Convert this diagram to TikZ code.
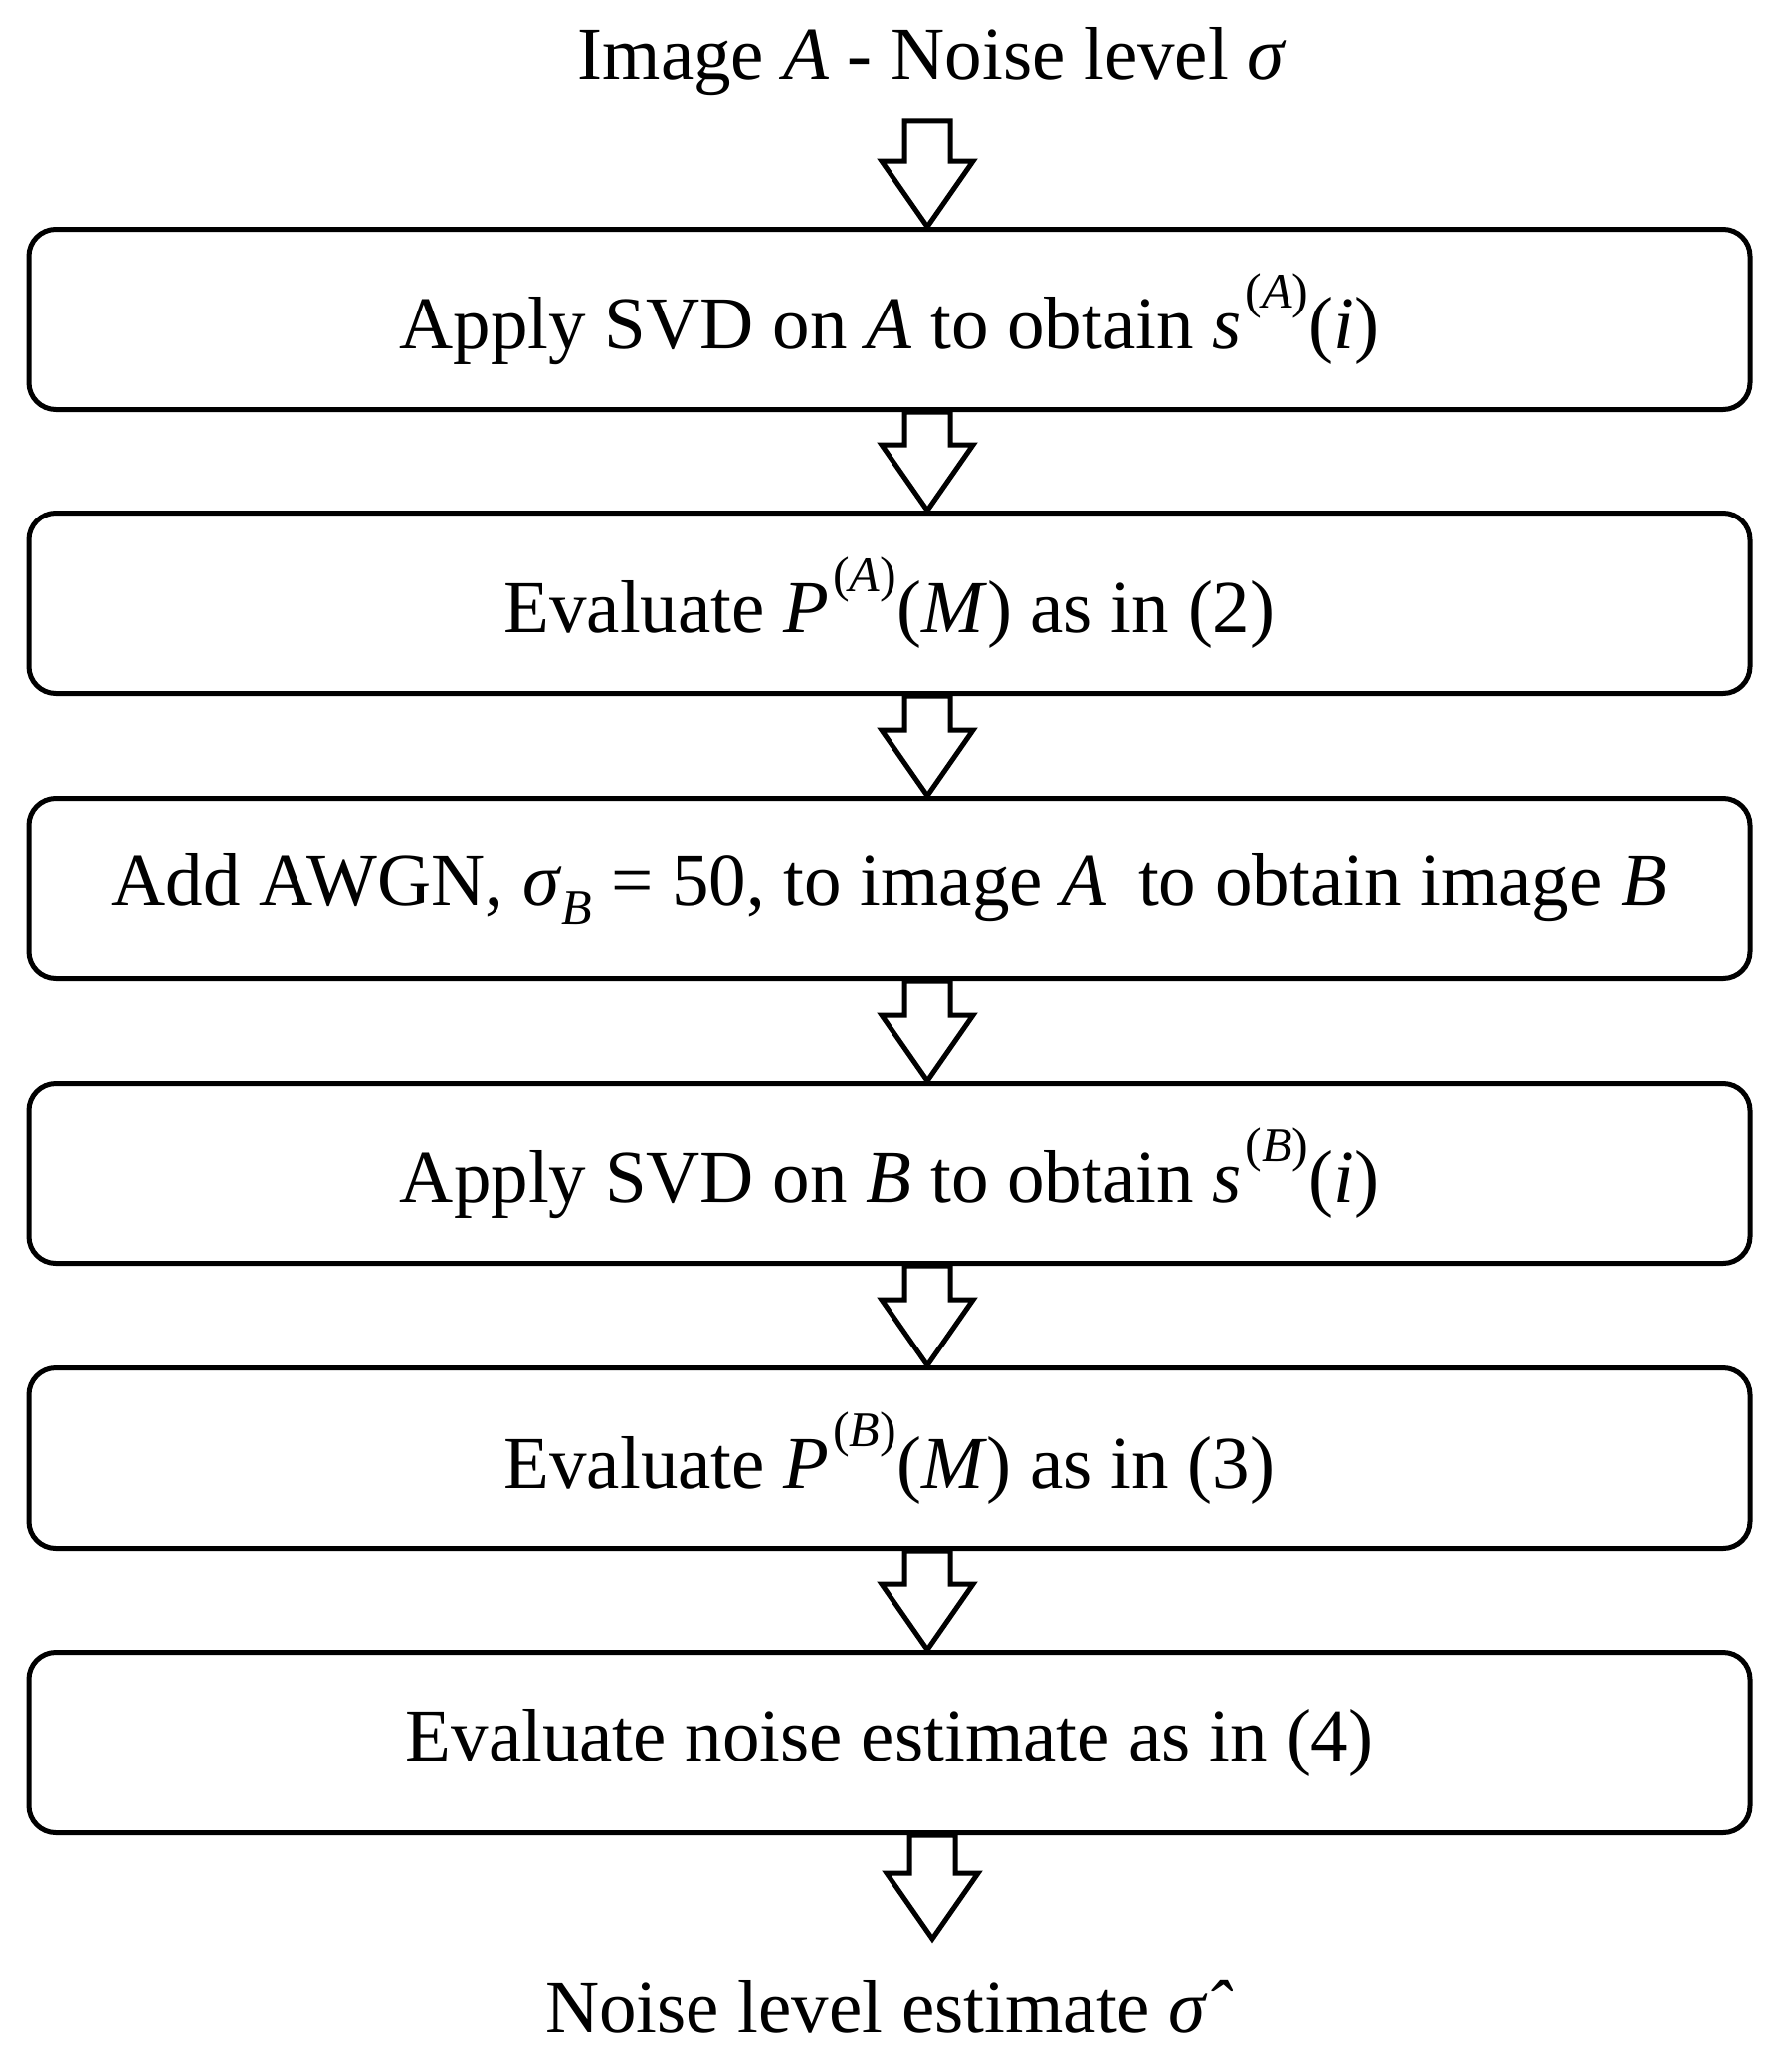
\documentclass[tikz,border=0pt]{standalone}
\usepackage{fontspec}
\setmainfont{Liberation Serif}
\usetikzlibrary{calc}
\newcommand\iA{\textit{A}}
\newcommand\iB{\textit{B}}
\newcommand\sig{\textit{σ}}
\newcommand\supp[1]{\kern0.05em\raisebox{0.55em}{\fontsize{50}{56}\selectfont(\textit{#1})}}
\begin{document}
\begin{tikzpicture}[x=1pt,y=-1pt,
  box/.style={draw,line width=5pt,rounded corners=27pt,minimum width=1730pt,minimum height=181pt,inner sep=0pt},
  lab/.style={inner sep=0pt},
  arr/.style={draw,line width=5pt,fill=white,line join=miter}]
\useasboundingbox (0,0) rectangle (1792,2082);
\fontsize{75}{86}\selectfont
\newcommand\barrow[2]{\path[arr] let \p1=(#1), \p2=(#2) in (\x1-23pt,\y1) -- (\x1+23pt,\y1) -- (\x1+23pt,\y2+66pt) -- (\x1+46pt,\y2+66pt) -- (\x1,\y2) -- (\x1-46pt,\y2+66pt) -- (\x1-23pt,\y2+66pt) -- cycle;}
\node[lab] (t) at (937,62) {Image \iA{} - Noise level \sig};
\node[box] (b1) at (894,321) {Apply SVD on \iA{} to obtain \textit{s}\supp{A}(\textit{i})};
\node[box] (b2) at (894,606) {Evaluate \textit{P}\supp{A}(\textit{M}) as in (2)};
\node[box] (b3) at (894,893) {Add AWGN, \sig\raisebox{-0.25em}{\fontsize{50}{56}\selectfont\iB} = 50, to image \iA{}\, to obtain image \iB};
\node[box] (b4) at (894,1179) {Apply SVD on \iB{} to obtain \textit{s}\supp{B}(\textit{i})};
\node[box] (b5) at (894,1465) {Evaluate \textit{P}\supp{B}(\textit{M}) as in (3)};
\node[box] (b6) at (894,1751) {Evaluate noise estimate as in (4)};
\node[lab] (e) at (894,2017) {Noise level estimate \textit{\^{σ}}};
\coordinate (e0) at (937,1948);
\coordinate (a0) at (932,122);
\barrow{a0}{b1.north -| a0}
\barrow{b1.south -| a0}{b2.north -| a0}
\barrow{b2.south -| a0}{b3.north -| a0}
\barrow{b3.south -| a0}{b4.north -| a0}
\barrow{b4.south -| a0}{b5.north -| a0}
\barrow{b5.south -| a0}{b6.north -| a0}
\barrow{b6.south -| e0}{e0}
\end{tikzpicture}
\end{document}
